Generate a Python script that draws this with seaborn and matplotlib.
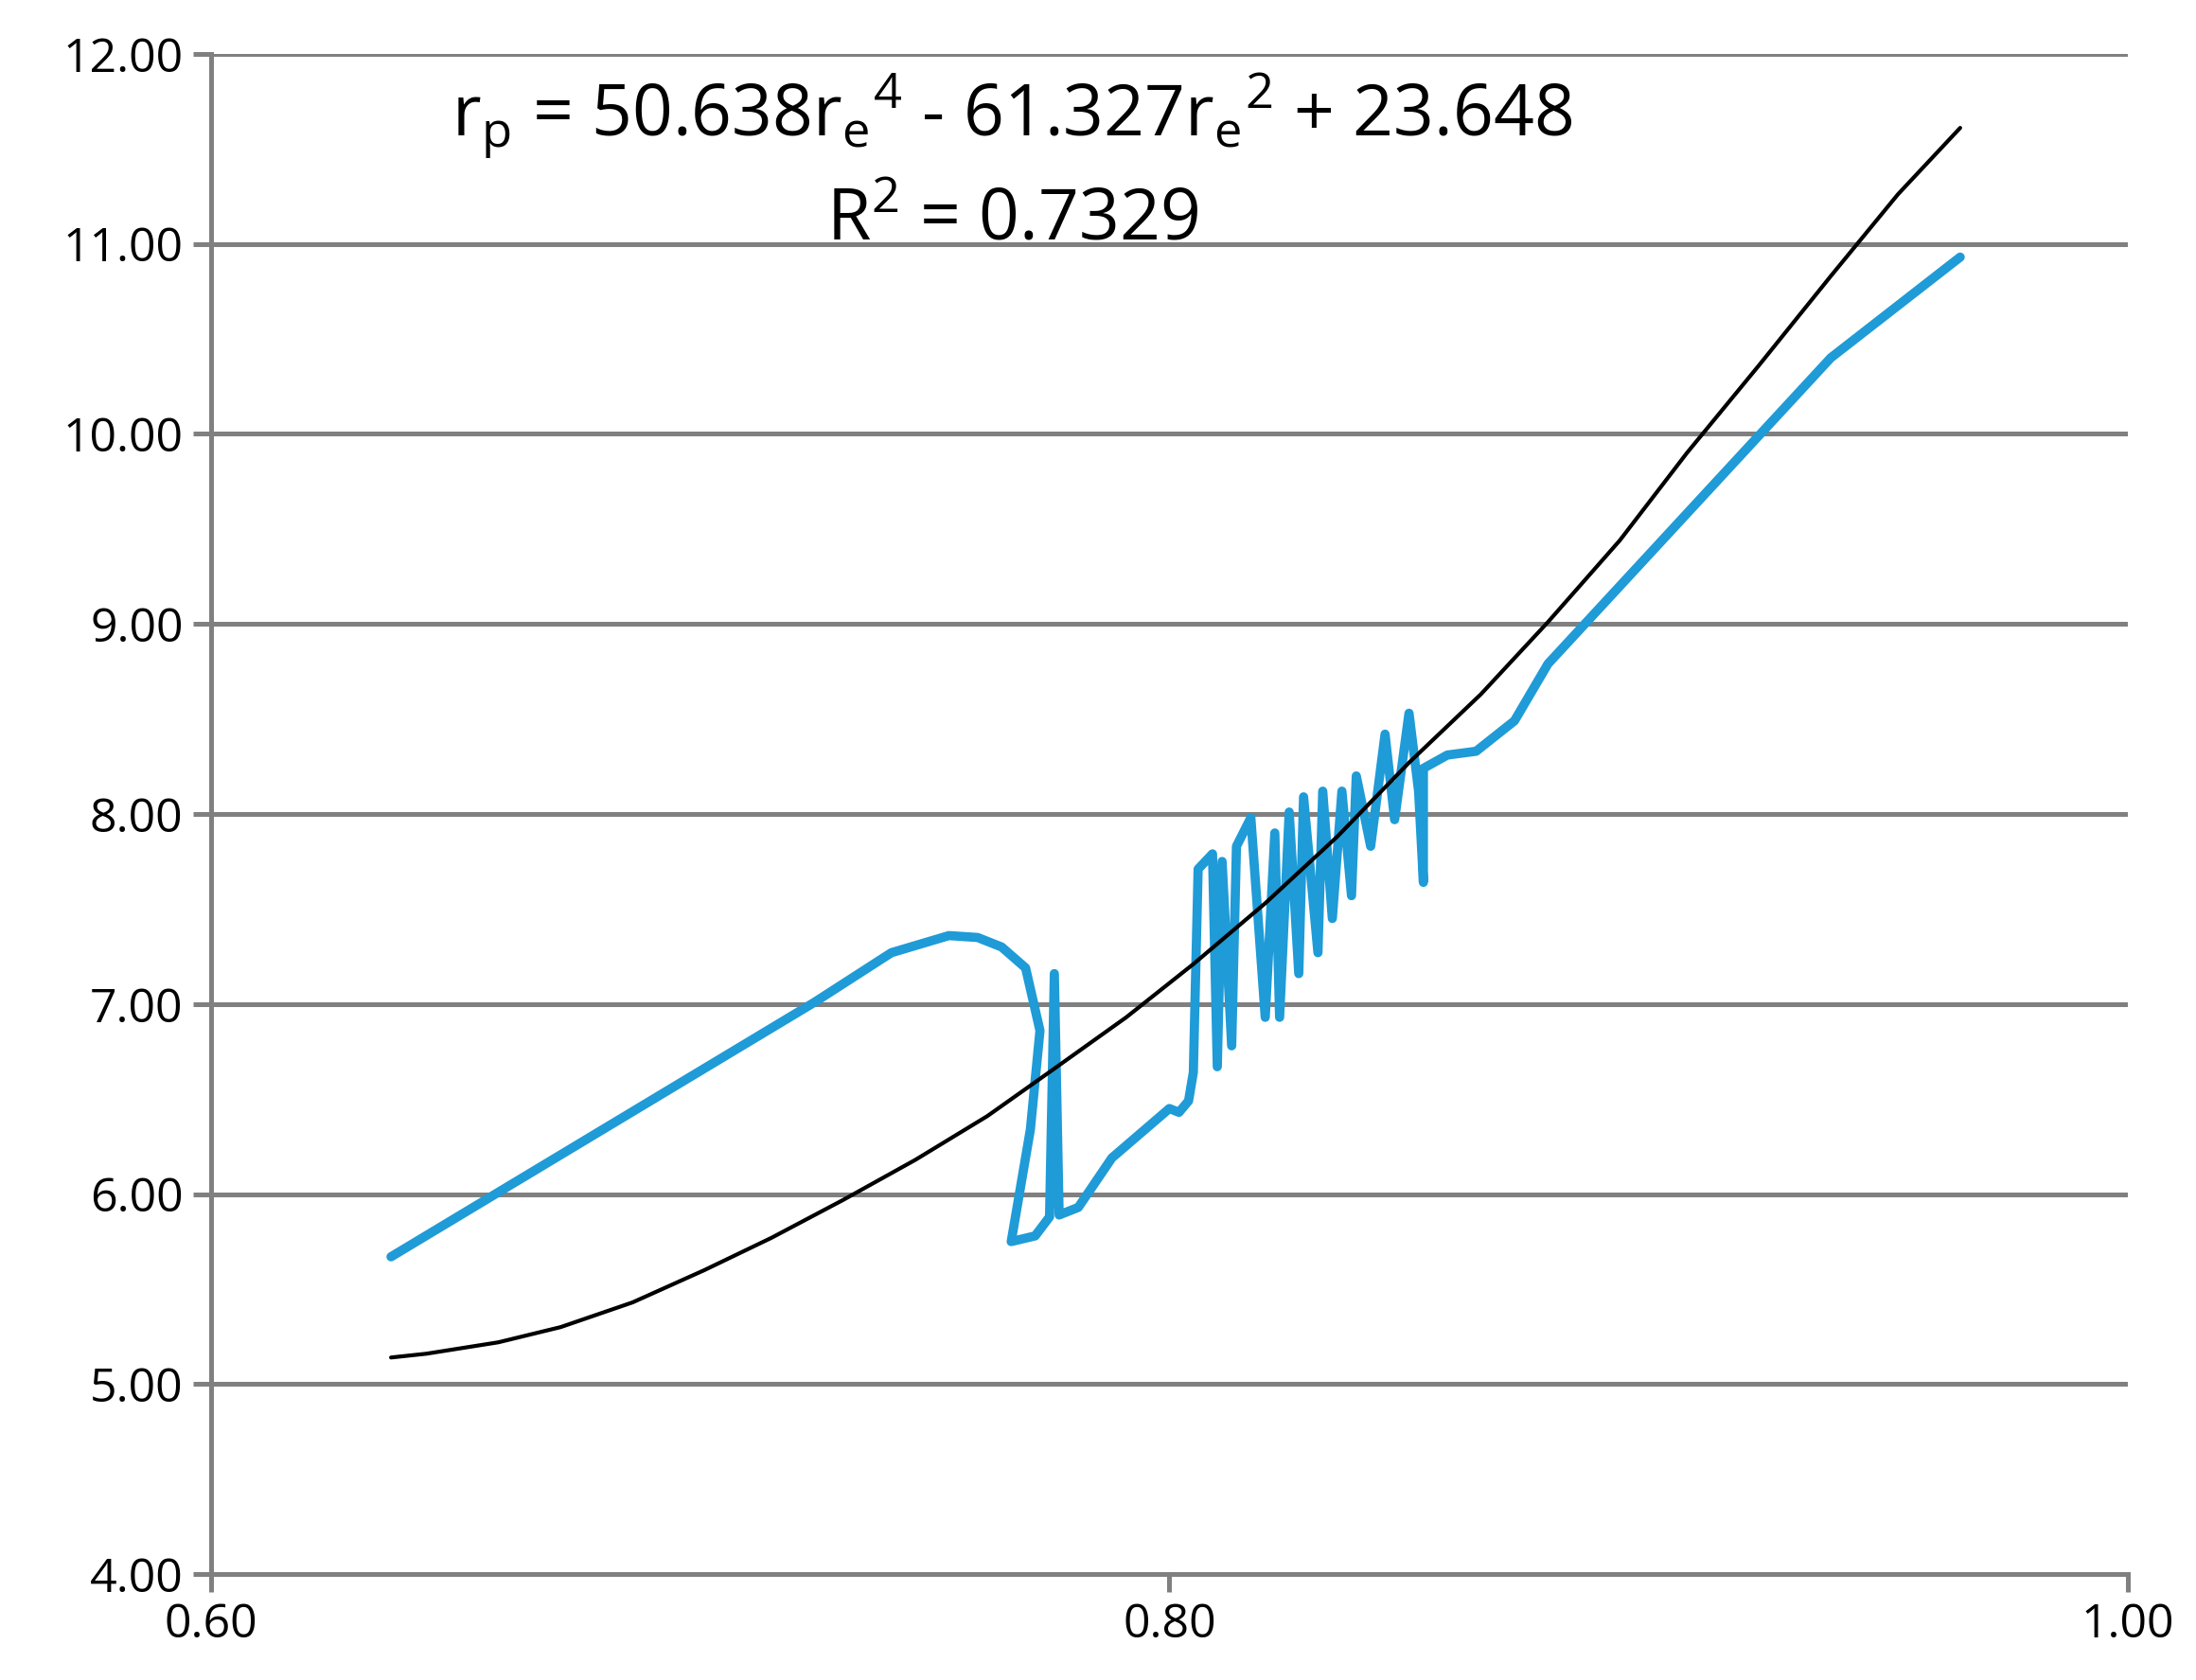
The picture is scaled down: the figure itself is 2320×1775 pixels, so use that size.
import matplotlib
matplotlib.use("Agg")
import matplotlib.pyplot as plt
import seaborn as sns

# fitted curve (black)
fit_x = [0.6376, 0.645, 0.660, 0.673, 0.688, 0.703, 0.717, 0.732, 0.747, 0.762, 0.776, 0.791,
         0.805, 0.820, 0.835, 0.850, 0.865, 0.879, 0.894, 0.908, 0.923, 0.938, 0.952, 0.965]
fit_y = [5.14, 5.16, 5.22, 5.30, 5.43, 5.60, 5.77, 5.97, 6.18, 6.41, 6.66, 6.93,
         7.21, 7.53, 7.88, 8.27, 8.63, 9.01, 9.44, 9.90, 10.36, 10.83, 11.26, 11.61]

# measured data (blue)
re_x = [0.6376, 0.726, 0.742, 0.754, 0.760, 0.765, 0.770, 0.773, 0.771, 0.767, 0.772, 0.775,
        0.776, 0.777, 0.781, 0.788, 0.800, 0.802, 0.804, 0.805, 0.806, 0.809, 0.810, 0.811,
        0.813, 0.814, 0.817, 0.820, 0.822, 0.823, 0.825, 0.827, 0.828, 0.831, 0.832, 0.834,
        0.836, 0.838, 0.839, 0.842, 0.845, 0.847, 0.850, 0.852, 0.853, 0.853, 0.858, 0.864,
        0.872, 0.879, 0.938, 0.965]
rp_y = [5.67, 7.01, 7.27, 7.36, 7.35, 7.30, 7.19, 6.86, 6.34, 5.75, 5.78, 5.88,
        7.16, 5.89, 5.93, 6.19, 6.45, 6.43, 6.49, 6.64, 7.71, 7.79, 6.67, 7.75,
        6.78, 7.83, 7.98, 6.93, 7.90, 6.93, 8.01, 7.16, 8.09, 7.27, 8.12, 7.45,
        8.12, 7.57, 8.20, 7.83, 8.42, 7.97, 8.53, 8.12, 7.64, 8.24, 8.31, 8.33,
        8.49, 8.79, 10.40, 10.93]

sns.set_style("white")
plt.rcParams['font.family'] = ['Open Sans', 'DejaVu Sans']

fig = plt.figure(figsize=(11.6, 8.875), dpi=200)
ax = fig.add_axes([0.096, 0.063, 0.873, 0.905])

sns.lineplot(x=re_x, y=rp_y, sort=False, estimator=None, color="#1f9bd7", linewidth=3.5, ax=ax)
sns.lineplot(x=fit_x, y=fit_y, sort=False, estimator=None, color="black", linewidth=1.5, ax=ax)

ax.set_xlim(0.6, 1.0)
ax.set_ylim(4, 12)
ax.set_xticks([0.6, 0.8, 1.0])
ax.set_yticks(range(4, 13))
ax.set_xticklabels(["0.60", "0.80", "1.00"])
ax.set_yticklabels([f"{v:.2f}" for v in range(4, 13)])
ax.yaxis.grid(True, color="#808080", linewidth=1.8)
for s in ["top", "right"]:
    ax.spines[s].set_visible(False)
for s in ["left", "bottom"]:
    ax.spines[s].set_color("#808080")
    ax.spines[s].set_linewidth(1.8)
ax.tick_params(axis="both", labelsize=18, labelcolor="black", direction="out", length=7,
               width=1.8, color="#808080", left=True, bottom=True)

ax.text(0.418, 0.96, r"r$_\mathregular{p}$ = 50.638r$_\mathregular{e}$$^\mathregular{4}$ - 61.327r$_\mathregular{e}$$^\mathregular{2}$ + 23.648",
        transform=ax.transAxes, ha="center", va="center", fontsize=27, color="black")
ax.text(0.418, 0.89, r"R$^\mathregular{2}$ = 0.7329",
        transform=ax.transAxes, ha="center", va="center", fontsize=27, color="black")

fig.savefig("out.png", dpi=200)
